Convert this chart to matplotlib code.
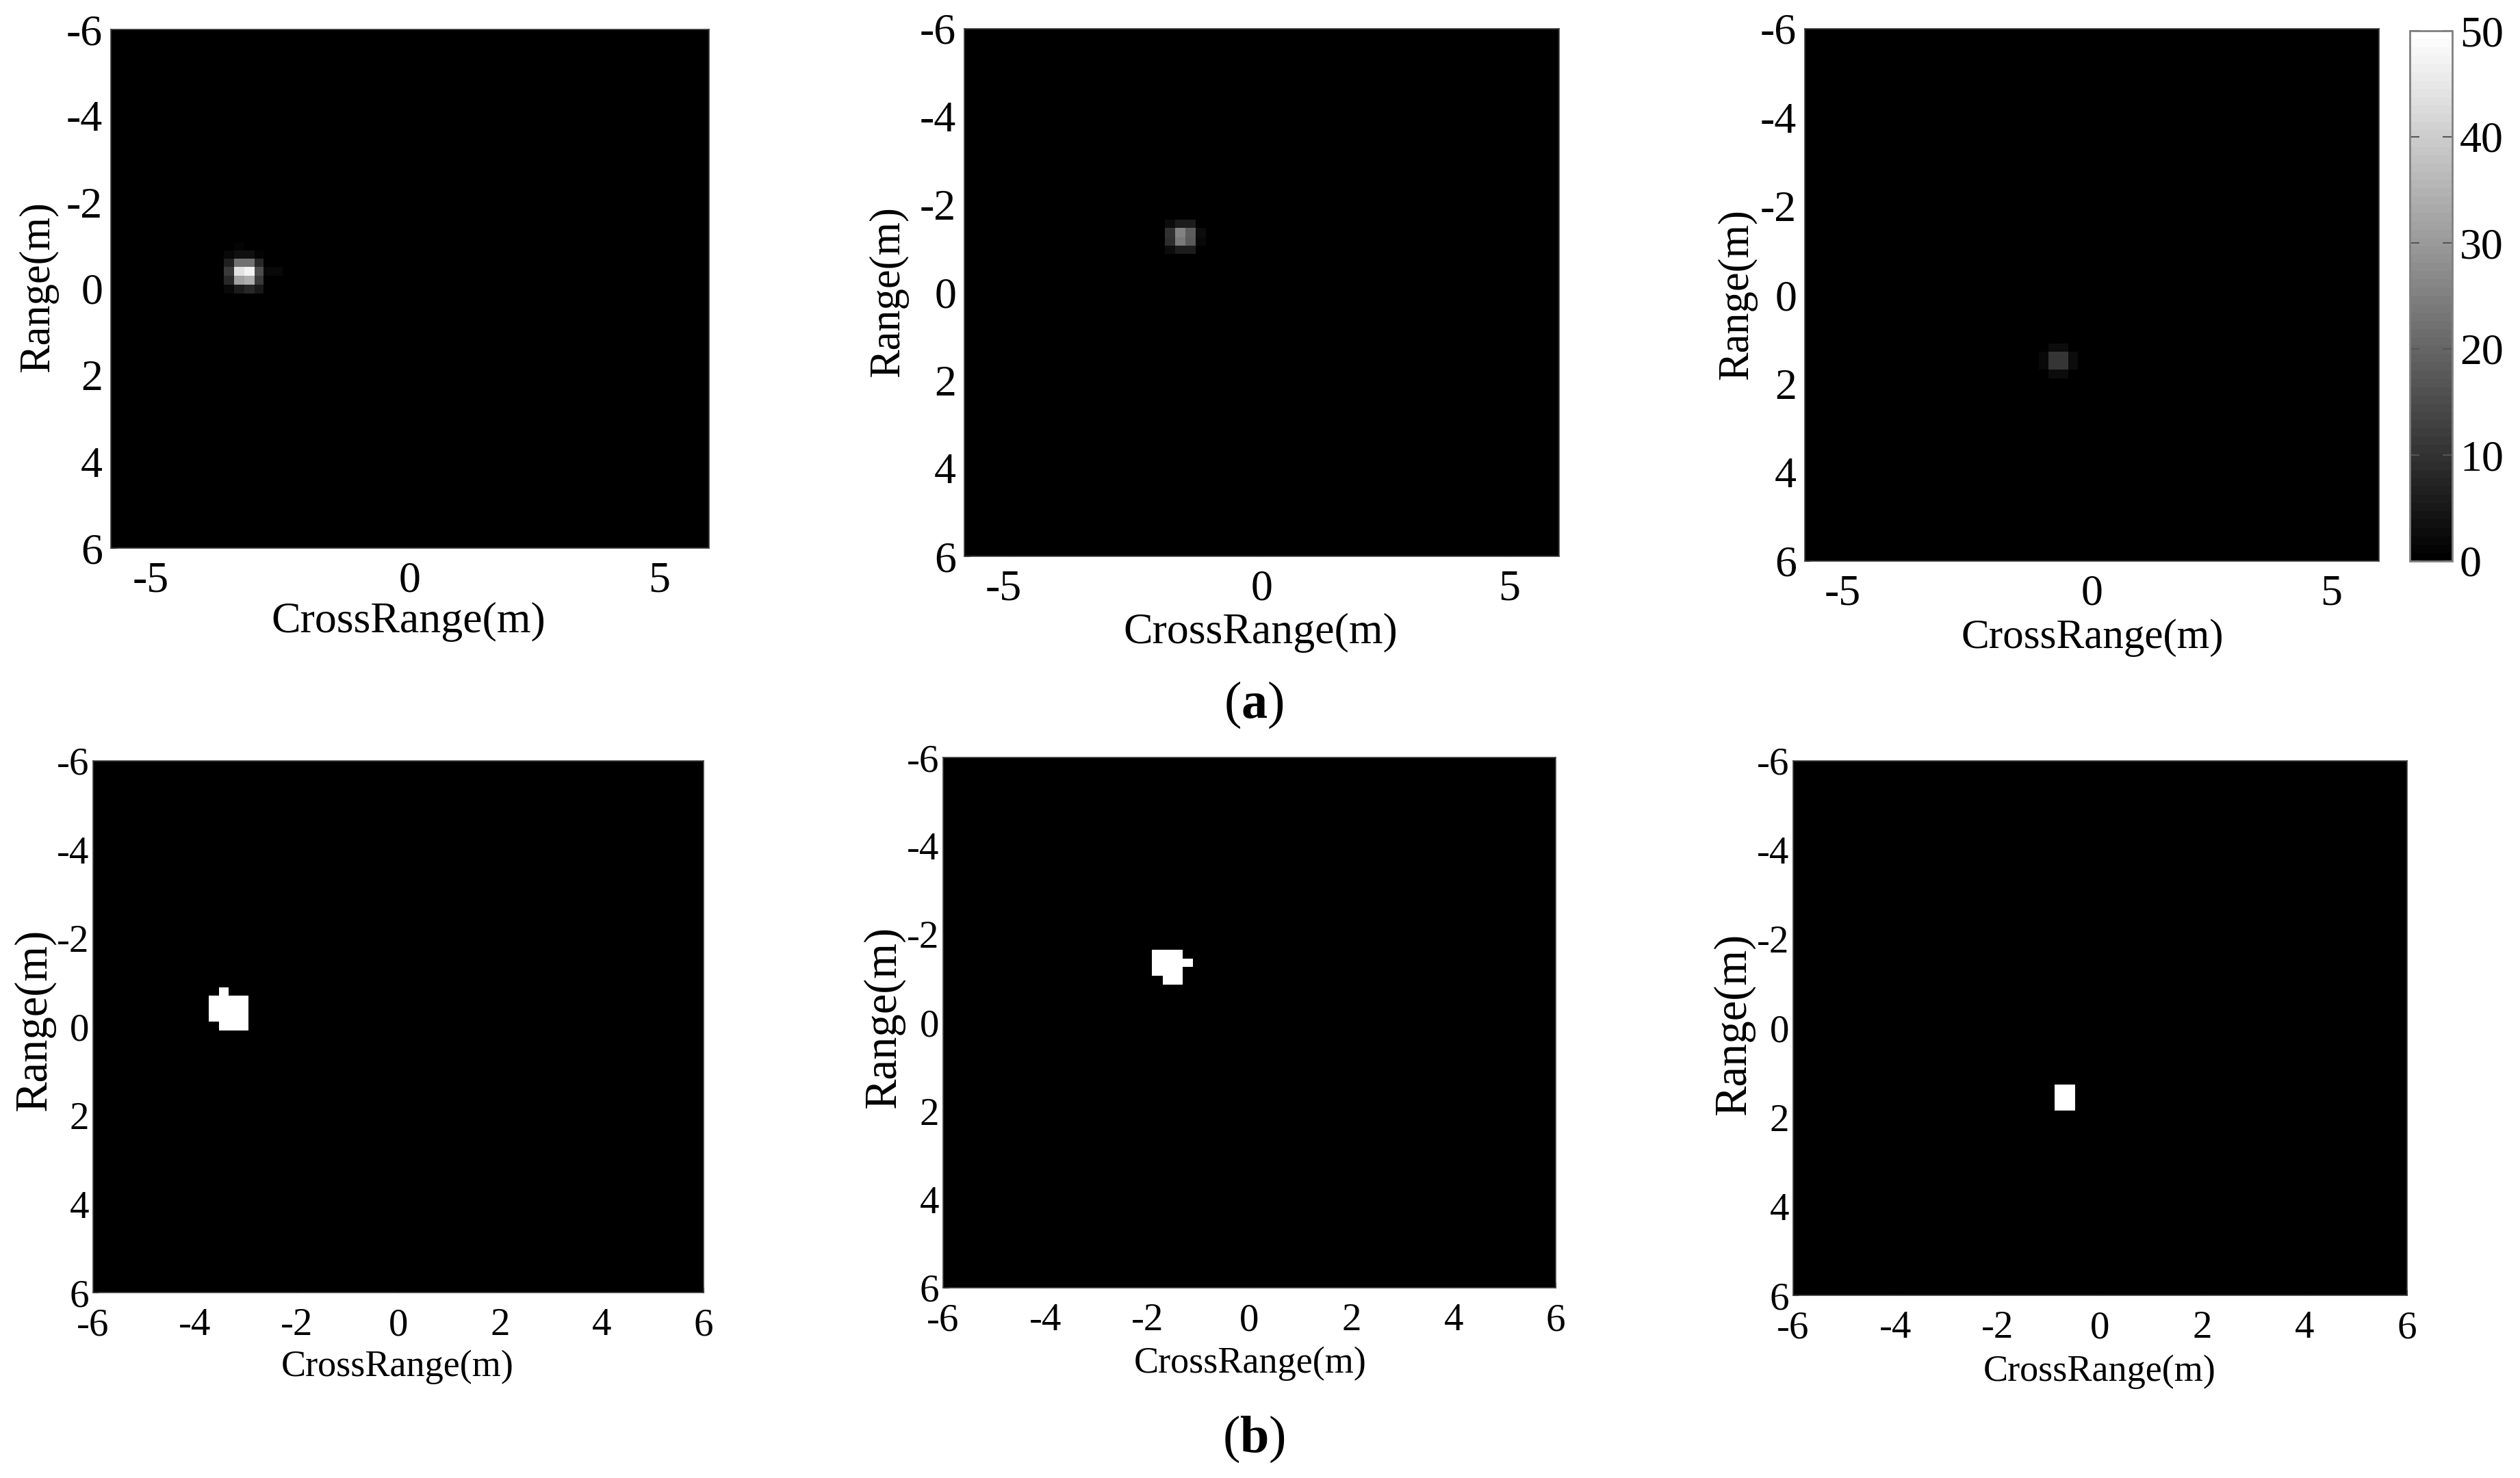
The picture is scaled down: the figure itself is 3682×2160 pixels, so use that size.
import numpy as np
import matplotlib
matplotlib.use("Agg")
import matplotlib.pyplot as plt
from matplotlib.transforms import ScaledTranslation

plt.rcParams['font.family'] = ['Liberation Serif', 'DejaVu Serif']
plt.rcParams['mathtext.fontset'] = 'custom'
plt.rcParams['mathtext.rm'] = 'Liberation Serif'
plt.rcParams['mathtext.bf'] = 'Liberation Serif:bold'

# ---- data: top row (intensity, 0-50)
a1_x = [-3.737, -3.531, -3.325, -3.119, -2.936, -2.740, -2.548]
a1_y = [-1.076, -0.887, -0.692, -0.507, -0.296, -0.100, 0.111]
a1_v = [[0, 1.2, 0.6, 0, 0, 0],
        [2, 3.5, 3.5, 1, 0, 0],
        [7, 22.5, 22.5, 8, 0.4, 0],
        [11, 44, 47, 15, 1.6, 1.6],
        [8, 32, 34, 11, 0.6, 0],
        [2, 6, 8, 5, 0, 0]]

a2_x = [-1.958, -1.751, -1.544, -1.337, -1.130]
a2_y = [-1.662, -1.475, -1.257, -1.066, -0.879]
a2_v = [[3, 6, 5.5, 0.6],
        [10, 25.5, 18.6, 2.4],
        [8.8, 23.5, 17.6, 2],
        [3, 6, 5.5, 0.6]]

a3_x = [-1.104, -0.904, -0.690, -0.498, -0.293]
a3_y = [1.092, 1.282, 1.487, 1.683, 1.889]
a3_v = [[0.6, 2.4, 2.4, 0.6],
        [2, 10.8, 10.8, 2.4],
        [2, 10.2, 10.2, 2.4],
        [0.6, 2.8, 2.8, 0.6]]

# ---- data: bottom row (binary masks)
b1_x = [-3.727, -3.525, -3.332, -3.137, -2.942]
b1_y = [-0.883, -0.703, -0.505, -0.307, -0.111, 0.085]
b1_v = [[0, 1, 0, 0],
        [1, 1, 1, 1],
        [1, 1, 1, 1],
        [1, 1, 1, 1],
        [0, 1, 1, 1]]

b2_x = [-1.907, -1.692, -1.498, -1.304, -1.103]
b2_y = [-1.644, -1.452, -1.267, -1.065, -0.859]
b2_v = [[1, 1, 1, 0],
        [1, 1, 1, 1],
        [1, 1, 1, 0],
        [0, 1, 1, 0]]

b3_x = [-0.894, -0.693, -0.492]
b3_y = [1.268, 1.465, 1.660, 1.856]
b3_v = [[1, 1], [1, 1], [1, 1]]

top_xticks = [-5, 0, 5]
top_xlabels = ['-5', '0', '5']
bot_xticks = [-6, -4, -2, 0, 2, 4, 6]
bot_xlabels = ['-6', '-4', '-2', '0', '2', '4', '6']
yticks = [-6, -4, -2, 0, 2, 4, 6]
ylabels = ['-6', '-4', '-2', '0', '2', '4', '6']
cbar_ticks = [0, 10, 20, 30, 40, 50]

W, H = 3682, 2160
fig = plt.figure(figsize=(W / 100, H / 100), dpi=100, facecolor='white')
cmap = plt.get_cmap('gray', 64)


def px_axes(l, t, r, b):
    return fig.add_axes([l / W, 1 - b / H, (r - l) / W, (b - t) / H])


def panel(box, xe, ye, v, vmax, xt, xl, fs, xpad, ypad):
    ax = px_axes(*box)
    ax.set_facecolor('black')
    m = ax.pcolormesh(xe, ye, np.array(v, float), cmap=cmap, vmin=0, vmax=vmax)
    ax.set_xlim(-6, 6)
    ax.set_ylim(6, -6)
    ax.set_xticks(xt, xl)
    ax.set_yticks(yticks, ylabels)
    ax.tick_params(axis='x', direction='in', length=6, color='black', labelsize=fs, pad=xpad)
    ax.tick_params(axis='y', direction='in', length=6, color='black', labelsize=fs, pad=ypad)
    for s in ax.spines.values():
        s.set_color('#404040')
        s.set_linewidth(1.2)
    return ax, m


def ftext(x, y, s, fs, **kw):
    fig.text(x / W, 1 - y / H, s, fontsize=fs, ha='center', va='center', **kw)


top_boxes = [(162, 43, 1035.5, 801), (1409, 42, 2278, 813), (2637, 42, 3476, 820)]
bot_boxes = [(136, 1112, 1028, 1889), (1378, 1107, 2273, 1882), (2620, 1112, 3517, 1893)]

top_data = [(a1_x, a1_y, a1_v), (a2_x, a2_y, a2_v), (a3_x, a3_y, a3_v)]
bot_data = [(b1_x, b1_y, b1_v), (b2_x, b2_y, b2_v), (b3_x, b3_y, b3_v)]

mesh = None
for box, (xe, ye, v) in zip(top_boxes, top_data):
    ax, m = panel(box, xe, ye, v, 50, top_xticks, top_xlabels, 46, 14, 8.5)
    mesh = m
    lab = ax.get_xticklabels()[0]
    lab.set_transform(lab.get_transform() + ScaledTranslation(-15 / 100, 0, fig.dpi_scale_trans))

for box, (xe, ye, v) in zip(bot_boxes, bot_data):
    panel(box, xe, ye, v, 1, bot_xticks, bot_xlabels, 41, 16, 4)

# axis titles
for x, y, fs in [(597, 909, 46), (1842, 925, 46), (3057, 932, 44)]:
    ftext(x, y, 'CrossRange(m)', fs)
for x, y, fs in [(581, 1998, 39), (1827, 1993, 39), (3068, 2005, 39)]:
    ftext(x, y, 'CrossRange(m)', fs)
for x, y, fs in [(56, 419, 45), (1298, 426, 45), (2538, 430, 45)]:
    ftext(x, y, 'Range(m)', fs, rotation=90)
for x, y, fs in [(50, 1491, 48), (1291, 1487, 48), (2533, 1497, 48)]:
    ftext(x, y, 'Range(m)', fs, rotation=90)

# colour bar
cax = px_axes(3521, 45, 3583, 820)
cb = fig.colorbar(mesh, cax=cax, ticks=cbar_ticks)
cb.ax.tick_params(direction='in', length=10, left=True, right=True, color='#555555',
                  labelsize=46, pad=8, width=1.5)
cb.outline.set_edgecolor('#808080')
cb.outline.set_linewidth(2)

# sub-figure captions
ftext(1832, 1030, r'(' + r'$\mathbf{a}$' + r')', 55)
ftext(1832, 2103, r'(' + r'$\mathbf{b}$' + r')', 55)

fig.savefig('out.png', dpi=100, facecolor='white')
